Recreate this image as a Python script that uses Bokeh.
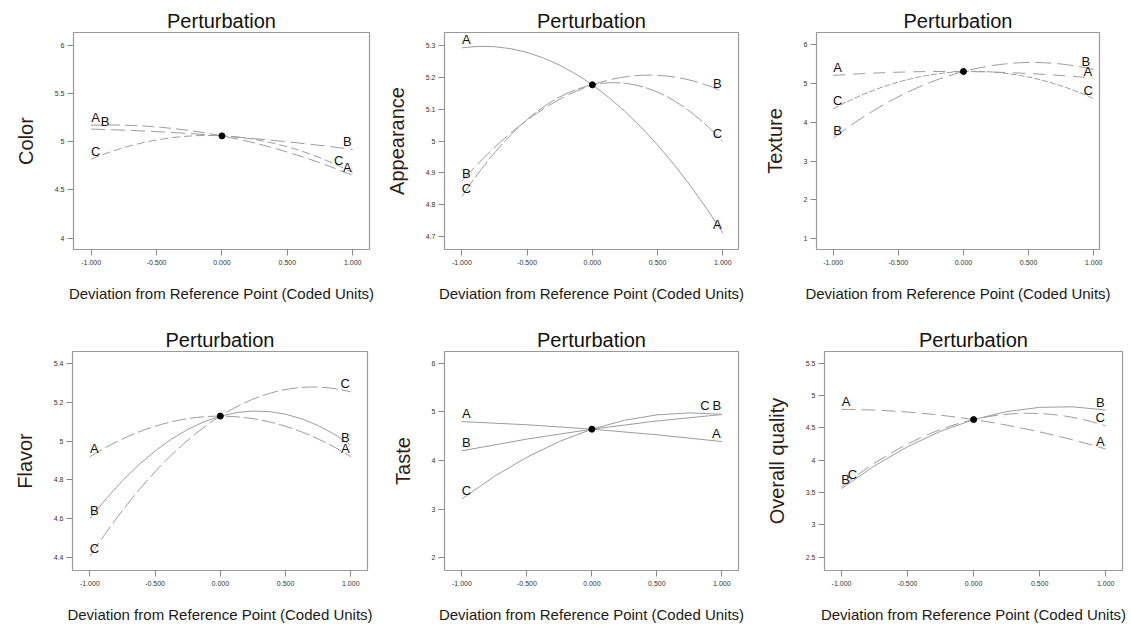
from bokeh.plotting import figure
from bokeh.layouts import row, column
from bokeh.models import ColumnDataSource, FixedTicker, Range1d
from bokeh.core.properties import value
from bokeh.embed import file_html
from bokeh.resources import INLINE

# ---------------- data ----------------
factors = ["A", "B", "C"]
x_levels = [-1.0, 0.0, 1.0]          # coded deviation: low, reference, high
x_ticks = [-1.0, -0.5, 0.0, 0.5, 1.0]
x_tick_labels = ["-1.000", "-0.500", "0.000", "0.500", "1.000"]

color_A = [5.17, 5.06, 4.65]
color_B = [5.13, 5.06, 4.92]
color_C = [4.82, 5.06, 4.68]
color_ticks = [4, 4.5, 5, 5.5, 6]
color_tick_labels = ["4", "4.5", "5", "5.5", "6"]

appearance_A = [5.292, 5.176, 4.712]
appearance_B = [4.874, 5.176, 5.155]
appearance_C = [4.826, 5.176, 4.998]
appearance_ticks = [4.7, 4.8, 4.9, 5.0, 5.1, 5.2, 5.3]
appearance_tick_labels = ["4.7", "4.8", "4.9", "5", "5.1", "5.2", "5.3"]

texture_A = [5.21, 5.31, 5.14]
texture_B = [3.59, 5.31, 5.36]
texture_C = [4.35, 5.31, 4.61]
texture_ticks = [1, 2, 3, 4, 5, 6]
texture_tick_labels = ["1", "2", "3", "4", "5", "6"]

flavor_A = [4.92, 5.13, 4.92]
flavor_B = [4.60, 5.13, 4.98]
flavor_C = [4.405, 5.13, 5.255]
flavor_ticks = [4.4, 4.6, 4.8, 5.0, 5.2, 5.4]
flavor_tick_labels = ["4.4", "4.6", "4.8", "5", "5.2", "5.4"]

taste_A = [4.80, 4.644, 4.39]
taste_B = [4.20, 4.644, 4.945]
taste_C = [3.21, 4.644, 4.95]
taste_ticks = [2, 3, 4, 5, 6]
taste_tick_labels = ["2", "3", "4", "5", "6"]

overall_A = [4.786, 4.628, 4.173]
overall_B = [3.561, 4.628, 4.776]
overall_C = [3.587, 4.628, 4.531]
overall_ticks = [2.5, 3.0, 3.5, 4.0, 4.5, 5.0, 5.5]
overall_tick_labels = ["2.5", "3", "3.5", "4", "4.5", "5", "5.5"]

# ---------------- styles / layout ----------------
LINE_COLOR = "#9c9c9c"
FONT = "Liberation Sans"
YLABEL_COLOR = "#2e1e16"

panels = [
    dict(ylabel="Color", series=[color_A, color_B, color_C],
         ticks=color_ticks, tick_labels=color_tick_labels,
         w=377, h=313, mb=(73, 8, 30, 64), xr=(-1.135, 1.128), yr=(3.884, 6.13),
         dashes=["12 5", "14 6", "8 4"],
         offs={("L", "B"): (14, -8), ("R", "C"): (-14, -12)}),
    dict(ylabel="Appearance", series=[appearance_A, appearance_B, appearance_C],
         ticks=appearance_ticks, tick_labels=appearance_tick_labels,
         w=377, h=313, mb=(67, 16, 32, 61), xr=(-1.133, 1.12), yr=(4.66, 5.34),
         dashes=["solid", "18 5", "20 3"], offs={}),
    dict(ylabel="Texture", series=[texture_A, texture_B, texture_C],
         ticks=texture_ticks, tick_labels=texture_tick_labels,
         w=377, h=313, mb=(62, 32, 32, 64), xr=(-1.128, 1.044), yr=(0.716, 6.318),
         dashes=["12 8", "16 6", "6 2"],
         offs={("R", "B"): (-8, -8), ("R", "A"): (-6, -7)}),
    dict(ylabel="Flavor", series=[flavor_A, flavor_B, flavor_C],
         ticks=flavor_ticks, tick_labels=flavor_tick_labels,
         w=377, h=314, mb=(72, 10, 36, 57), xr=(-1.133, 1.128), yr=(4.332, 5.464),
         dashes=["14 4", "solid", "16 4"], offs={}),
    dict(ylabel="Taste", series=[taste_A, taste_B, taste_C],
         ticks=taste_ticks, tick_labels=taste_tick_labels,
         w=377, h=314, mb=(67, 16, 38, 57), xr=(-1.134, 1.128), yr=(1.74, 6.24),
         dashes=["solid", "solid", "solid"],
         offs={("R", "C"): (-17, -9), ("R", "B"): (-5, -9)}),
    dict(ylabel="Overall quality", series=[overall_A, overall_B, overall_C],
         ticks=overall_ticks, tick_labels=overall_tick_labels,
         w=377, h=314, mb=(70, 9, 37, 56), xr=(-1.129, 1.127), yr=(2.296, 5.68),
         dashes=["14 6", "solid", "14 6"],
         offs={("L", "C"): (11, -12), ("L", "B"): (4, -9)}),
]


def make_panel(cfg):
    ml, mr, mt, mb = cfg["mb"]
    p = figure(width=cfg["w"], height=cfg["h"], output_backend="svg",
               toolbar_location=None,
               x_range=Range1d(*cfg["xr"]), y_range=Range1d(*cfg["yr"]),
               min_border_left=ml, min_border_right=mr,
               min_border_top=mt, min_border_bottom=mb,
               title="Perturbation")
    p.background_fill_color = "white"
    p.border_fill_color = "white"
    p.outline_line_color = "#9a9a9a"
    p.outline_line_width = 1.2
    p.xgrid.visible = False
    p.ygrid.visible = False

    p.title.align = "center"
    p.title.text_font = FONT
    p.title.text_font_size = "20px"
    p.title.text_font_style = "normal"
    p.title.text_color = "#111111"
    p.title.standoff = 1

    for ax in (p.xaxis[0], p.yaxis[0]):
        ax.axis_line_color = None
        ax.major_tick_line_color = "#888888"
        ax.major_tick_out = 6
        ax.major_tick_in = 0
        ax.minor_tick_line_color = None
        ax.major_label_text_font = FONT
        ax.major_label_text_font_size = "7px"
        ax.major_label_text_color = "#333333"
        ax.axis_label_text_font = FONT
        ax.axis_label_text_font_style = "normal"

    xa = p.xaxis[0]
    xa.ticker = FixedTicker(ticks=x_ticks)
    xa.major_label_overrides = {t: l for t, l in zip(x_ticks, x_tick_labels)}
    xa.major_label_standoff = 4
    xa.axis_label = "Deviation from Reference Point (Coded Units)"
    xa.axis_label_text_font_size = "15px"
    xa.axis_label_text_color = "#1a1a1a"
    xa.axis_label_standoff = 17

    ya = p.yaxis[0]
    ya.ticker = FixedTicker(ticks=cfg["ticks"])
    ya.major_label_overrides = {t: l for t, l in zip(cfg["ticks"], cfg["tick_labels"])}
    ya.major_label_standoff = 3
    ya.axis_label = cfg["ylabel"]
    ya.axis_label_text_font_size = "20px"
    ya.axis_label_text_color = YLABEL_COLOR
    ya.axis_label_standoff = 15

    lx, lys, ldx, ldy, lt = [], [], [], [], []
    for name, ser, dash in zip(factors, cfg["series"], cfg["dashes"]):
        # quadratic Bezier through (low, ref, high) responses
        src = ColumnDataSource(dict(
            x0=[x_levels[0]], y0=[ser[0]],
            x1=[x_levels[2]], y1=[ser[2]],
            cx=[x_levels[1]], cy=[2 * ser[1] - (ser[0] + ser[2]) / 2.0]))
        p.quadratic(x0="x0", y0="y0", x1="x1", y1="y1", cx="cx", cy="cy",
                    source=src, line_color=LINE_COLOR, line_width=1.0,
                    line_dash=dash)
        for side, idx, dflt in (("L", 0, (4.5, -8)), ("R", 2, (-5.5, -8))):
            dx, dy = cfg["offs"].get((side, name), dflt)
            lx.append(x_levels[idx])
            lys.append(ser[idx])
            ldx.append(dx)
            ldy.append(dy)
            lt.append(name)

    lsrc = ColumnDataSource(dict(x=lx, y=lys, dx=ldx, dy=ldy, t=lt))
    p.text(x="x", y="y", text="t", x_offset="dx", y_offset="dy", source=lsrc,
           text_font=value(FONT), text_font_size=value("13px"),
           text_align="center", text_baseline="middle", text_color="#111111")

    ref = cfg["series"][0][1]
    p.scatter(x=[x_levels[1]], y=[ref], size=6, color="black")
    return p


figs = [make_panel(c) for c in panels]
layout = column(row(*figs[:3], spacing=0), row(*figs[3:], spacing=0), spacing=0)

open("out.html", "w").write(file_html(layout, INLINE))
